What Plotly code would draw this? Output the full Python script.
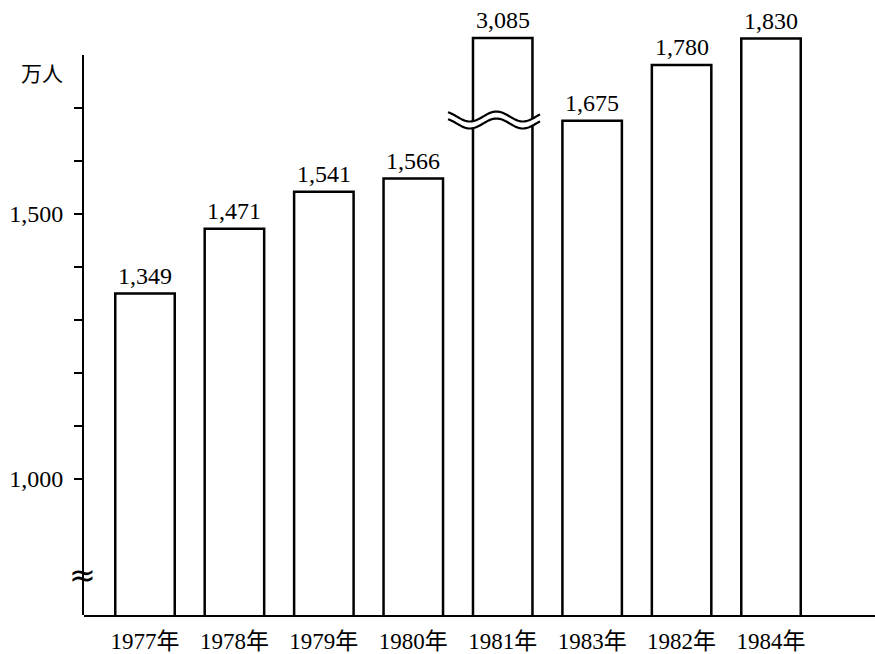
import numpy as np
import plotly.graph_objects as go

# ---- data ----
years = ["1977年", "1978年", "1979年", "1980年", "1981年", "1983年", "1982年", "1984年"]
values = [1349, 1471, 1541, 1566, 3085, 1675, 1780, 1830]
y_tick_values = [1000, 1100, 1200, 1300, 1400, 1500, 1600, 1700]
y_tick_labels = ["1,000", "", "", "", "", "1,500", "", ""]
unit_label = "万人"
break_limit = 2000  # values above this are drawn with a broken bar

# ---- layout geometry (pixels) ----
W, H = 875, 654
L, R, T, B = 84, 0, 30, 39
plot_w = W - L - R
plot_h = H - T - B
axis_bottom_px = H - B
axis_top_px = 55
px_per_unit = 0.53
anchor_val, anchor_px = 1500, 213.5

r0 = anchor_val - (axis_bottom_px - anchor_px) / px_per_unit
r1 = r0 + plot_h / px_per_unit
r3 = r0 + (axis_bottom_px - axis_top_px) / px_per_unit

# broken bar scale: top of the broken bar at pixel 38
broken_top_px = 38
big = max(values)
r1_2 = r0 + (big - r0) * plot_h / (axis_bottom_px - broken_top_px)

# category x-range
first_center_px, spacing_px = 145, 89.43
x_lo = (L - first_center_px) / spacing_px
x_hi = (W - R - first_center_px) / spacing_px

serif = "Liberation Serif, Noto Sans CJK JP, serif"

main_x = [c for c, v in zip(years, values) if v <= break_limit]
main_y = [v for v in values if v <= break_limit]
brk_x = [c for c, v in zip(years, values) if v > break_limit]
brk_y = [v for v in values if v > break_limit]

fig = go.Figure()
bar_style = dict(marker=dict(color="white", line=dict(color="black", width=2.5)),
                 width=0.665, showlegend=False, hoverinfo="x+y")
fig.add_trace(go.Bar(x=main_x, y=main_y, yaxis="y", **bar_style))
fig.add_trace(go.Bar(x=brk_x, y=brk_y, yaxis="y2", **bar_style))
fig.add_trace(go.Scatter(x=[], y=[], yaxis="y3", showlegend=False))

annotations = []
for c, v in zip(main_x, main_y):
    annotations.append(dict(x=c, y=v, xref="x", yref="y", text=f"{v:,}", showarrow=False,
                            yanchor="bottom", yshift=3, font=dict(family=serif, size=24, color="black")))
for c, v in zip(brk_x, brk_y):
    annotations.append(dict(x=c, y=v, xref="x", yref="y2", text=f"{v:,}", showarrow=False,
                            yanchor="bottom", yshift=3, font=dict(family=serif, size=24, color="black")))

def px2paper(px, py):
    return (px - L) / plot_w, (axis_bottom_px - py) / plot_h

# unit label
ux, uy = px2paper(42, 72)
annotations.append(dict(x=ux, y=uy, xref="paper", yref="paper", text=unit_label, showarrow=False,
                        xanchor="center", yanchor="middle",
                        font=dict(family="Noto Sans CJK JP", size=21, color="black")))
# axis break symbol
bx, by = px2paper(82, 575)
annotations.append(dict(x=bx, y=by, xref="paper", yref="paper", text="≈", showarrow=False,
                        xanchor="center", yanchor="middle",
                        font=dict(family="DejaVu Sans", size=32, color="black")))

# wavy break across the broken bar
shapes = []
xs = np.linspace(448, 540, 60)
wave = 120 + 5 * np.cos(2 * np.pi * (xs - 470) / 53)
gap = 3.5
up = [px2paper(x, y - gap) for x, y in zip(xs, wave)]
lo = [px2paper(x, y + gap) for x, y in zip(xs, wave)]
fill_path = "M " + " L ".join(f"{a:.5f},{b:.5f}" for a, b in up) + " L " + \
    " L ".join(f"{a:.5f},{b:.5f}" for a, b in lo[::-1]) + " Z"
shapes.append(dict(type="path", path=fill_path, xref="paper", yref="paper",
                   fillcolor="white", line=dict(width=0), layer="above"))
for pts in (up, lo):
    p = "M " + " L ".join(f"{a:.5f},{b:.5f}" for a, b in pts)
    shapes.append(dict(type="path", path=p, xref="paper", yref="paper",
                       line=dict(color="black", width=2.2), layer="above"))

fig.update_layout(
    width=W, height=H,
    margin=dict(l=L, r=R, t=T, b=B, pad=0),
    paper_bgcolor="white", plot_bgcolor="rgba(0,0,0,0)",
    barmode="overlay",
    xaxis=dict(type="category", categoryorder="array", categoryarray=years,
               range=[x_lo, x_hi], showline=True, linecolor="black", linewidth=2,
               ticks="", showgrid=False, zeroline=False, ticklabelstandoff=4,
               tickfont=dict(family=serif, size=23, color="black")),
    yaxis=dict(range=[r0, r1], visible=False, domain=[0, 1]),
    yaxis2=dict(range=[r0, r1_2], overlaying="y", visible=False),
    yaxis3=dict(range=[r0, r3], domain=[0, (axis_bottom_px - axis_top_px) / plot_h],
                anchor="x", showline=True, linecolor="black", linewidth=2,
                ticks="outside", ticklen=8, tickwidth=2, tickcolor="black",
                tickvals=y_tick_values, ticktext=y_tick_labels,
                showgrid=False, zeroline=False, ticklabelstandoff=6,
                tickfont=dict(family=serif, size=24, color="black")),
    annotations=annotations,
    shapes=shapes,
)

fig.write_html("out.html", config={"displayModeBar": False},
               post_script="document.body.style.margin='0';")
